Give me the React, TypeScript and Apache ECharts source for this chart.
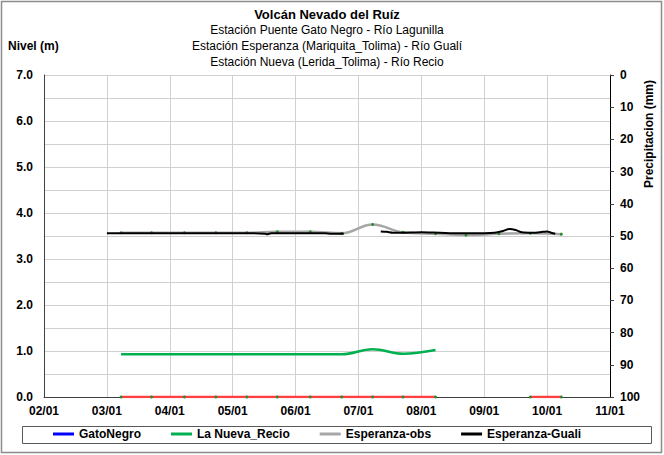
import React, { useEffect, useRef } from "react";
import * as echarts from "echarts";

// ---- Data ----
const monthLabels = ["02/01", "03/01", "04/01", "05/01", "06/01", "07/01", "08/01", "09/01", "10/01", "11/01"];
const levelTicks = [0, 1, 2, 3, 4, 5, 6, 7];

const titleLines = [
  "Volcán Nevado del Ruíz",
  "Estación Puente Gato Negro - Río Lagunilla",
  "Estación Esperanza (Mariquita_Tolima) - Río Gualí",
  "Estación Nueva (Lerida_Tolima) - Río Recio",
];

// GatoNegro: no data visible
const gatoNegroDates: string[] = [];
const gatoNegroValues: number[] = [];

// La Nueva_Recio
const nuevaDates = ["03/08", "03/23", "04/08", "04/23", "05/08", "05/23", "06/08", "06/23", "07/08", "07/23", "08/08"];
const nuevaValues = [0.93, 0.93, 0.93, 0.93, 0.93, 0.93, 0.93, 0.93, 1.04, 0.94, 1.02];

// Esperanza-obs
const obsDates = ["03/08", "03/23", "04/08", "04/23", "05/08", "05/23", "06/08", "06/23", "07/08", "07/23", "08/08", "08/23", "09/08", "09/23", "10/08"];
const obsValues = [3.57, 3.57, 3.57, 3.57, 3.57, 3.59, 3.59, 3.56, 3.75, 3.58, 3.55, 3.52, 3.55, 3.56, 3.54];

// Esperanza-Guali (null = gap)
const gualiDates = [
  "03/01", "03/10", "03/20", "04/01", "04/10", "04/20", "05/01", "05/10", "05/17", "05/18", "05/20", "06/01", "06/10", "06/15", "06/18", "06/24",
  "07/03",
  "07/12", "07/15", "07/18", "07/22", "08/01", "08/10", "08/20", "09/01", "09/06", "09/10", "09/13", "09/16", "09/19", "09/24", "09/29", "10/01", "10/03", "10/05",
];
const gualiValues: (number | null)[] = [
  3.56, 3.56, 3.56, 3.56, 3.56, 3.56, 3.56, 3.56, 3.55, 3.54, 3.56, 3.56, 3.56, 3.56, 3.55, 3.55,
  null,
  3.6, 3.59, 3.57, 3.57, 3.58, 3.57, 3.56, 3.56, 3.57, 3.61, 3.65, 3.63, 3.58, 3.57, 3.59, 3.6, 3.57, 3.55,
];

// Series at the bottom (no legend entry)
const precipDates = ["03/08", "03/23", "04/08", "04/23", "05/08", "05/23", "06/08", "06/23", "07/08", "07/23", "08/08", "08/23", "09/23", "10/08"];
const precipValues: (number | null)[] = [0, 0, 0, 0, 0, 0, 0, 0, 0, 0, 0, null, 0, 0];

const daysInMonth: Record<number, number> = { 2: 28, 3: 31, 4: 30, 5: 31, 6: 30, 7: 31, 8: 31, 9: 30, 10: 31, 11: 30 };
function toX(d: string): number {
  const [m, day] = d.split("/").map(Number);
  return m - 2 + (day - 1) / daysInMonth[m];
}
function pairs(dates: string[], vals: (number | null)[]) {
  return dates.map((d, i) => [toX(d), vals[i] == null ? "-" : vals[i]]);
}

const FONT = "'Liberation Sans', Arial, sans-serif";

export default function App() {
  const ref = useRef<HTMLDivElement>(null);
  useEffect(() => {
    if (!ref.current) return;
    const chart = echarts.init(ref.current, undefined, { renderer: "svg" });
    const grid = "#d0d0d0";
    chart.setOption({
      animation: false,
      backgroundColor: "#ffffff",
      textStyle: { fontFamily: FONT },
      grid: { left: 44, right: 54, top: 75, bottom: 58, containLabel: false },
      xAxis: {
        type: "value",
        min: 0,
        max: monthLabels.length - 1,
        interval: 1,
        axisLine: { lineStyle: { color: "#404040", width: 1 } },
        axisTick: { show: false },
        axisLabel: {
          formatter: (v: number) => monthLabels[Math.round(v)] ?? "",
          color: "#000",
          fontWeight: "bold",
          fontSize: 12,
          fontFamily: FONT,
          margin: 8,
        },
        splitLine: { show: true, lineStyle: { color: grid, width: 1 } },
      },
      yAxis: [
        {
          type: "value",
          min: 0,
          max: 7,
          interval: 0.5,
          axisLine: { show: true, lineStyle: { color: "#404040", width: 1 } },
          axisTick: { show: false },
          axisLabel: {
            formatter: (v: number) => (levelTicks.includes(v) ? v.toFixed(1) : ""),
            color: "#000",
            fontWeight: "bold",
            fontSize: 12,
            fontFamily: FONT,
            margin: 11,
          },
          splitLine: { show: true, lineStyle: { color: grid, width: 1 } },
        },
        {
          type: "value",
          min: 0,
          max: 100,
          interval: 10,
          inverse: true,
          position: "right",
          axisLine: { show: true, lineStyle: { color: "#000", width: 1 } },
          axisTick: { show: true, length: 4, lineStyle: { color: "#404040" } },
          axisLabel: {
            color: "#000",
            fontWeight: "bold",
            fontSize: 12,
            fontFamily: FONT,
            margin: 10,
          },
          splitLine: { show: false },
        },
      ],
      legend: {
        data: [
          { name: "GatoNegro" },
          { name: "La Nueva_Recio" },
          { name: "Esperanza-obs", itemStyle: { color: "#a6a6a6" } },
          { name: "Esperanza-Guali" },
        ],
        left: 53,
        top: 428,
        padding: 0,
        icon: "rect",
        itemWidth: 21,
        itemHeight: 3,
        itemGap: 30,
        textStyle: { color: "#000", fontWeight: "bold", fontSize: 12, fontFamily: FONT },
      },
      graphic: [
        { type: "rect", shape: { x: 1.5, y: 1.5, width: 660, height: 451 }, style: { fill: "none", stroke: "#8c8c8c", lineWidth: 1.5 }, z: -1 },
        { type: "rect", shape: { x: 22.5, y: 426.5, width: 629, height: 17 }, style: { fill: "none", stroke: "#595959", lineWidth: 1 } },
        ...titleLines.map((t, i) => ({
          type: "text",
          x: 327,
          y: 14 + i * 16,
          style: {
            text: t,
            fill: "#000",
            font: `${i === 0 ? "bold 13px" : "12px"} ${FONT}`,
            textAlign: "center",
            textVerticalAlign: "middle",
          },
        })),
        {
          type: "text",
          x: 8,
          y: 46,
          style: { text: "Nivel (m)", fill: "#000", font: `bold 12px ${FONT}`, textAlign: "left", textVerticalAlign: "middle" },
        },
        {
          type: "text",
          x: 649,
          y: 134,
          rotation: Math.PI / 2,
          style: { text: "Precipitacion (mm)", fill: "#000", font: `bold 12px ${FONT}`, textAlign: "center", textVerticalAlign: "middle" },
        },
      ],
      series: [
        {
          name: "GatoNegro",
          type: "line",
          data: pairs(gatoNegroDates, gatoNegroValues),
          symbol: "none",
          lineStyle: { color: "#0000ff", width: 3 },
          itemStyle: { color: "#0000ff" },
        },
        {
          name: "Precipitacion",
          type: "line",
          data: pairs(precipDates, precipValues),
          symbol: "circle",
          symbolSize: 3,
          showSymbol: true,
          connectNulls: false,
          lineStyle: { color: "#ff4040", width: 2.5 },
          itemStyle: { color: "#2e8b2e" },
          z: 5,
        },
        {
          name: "La Nueva_Recio",
          type: "line",
          data: pairs(nuevaDates, nuevaValues),
          symbol: "none",
          smooth: 0.4,
          lineStyle: { color: "#00b050", width: 2.5 },
          itemStyle: { color: "#00b050" },
        },
        {
          name: "Esperanza-obs",
          type: "line",
          data: pairs(obsDates, obsValues),
          symbol: "circle",
          symbolSize: 3,
          showSymbol: true,
          smooth: 0.4,
          lineStyle: { color: "#a6a6a6", width: 2.5 },
          itemStyle: { color: "#2e8b2e" },
        },
        {
          name: "Esperanza-Guali",
          type: "line",
          data: pairs(gualiDates, gualiValues),
          symbol: "none",
          connectNulls: false,
          smooth: 0.3,
          lineStyle: { color: "#000000", width: 2 },
          itemStyle: { color: "#000000" },
          z: 4,
        },
      ],
    });
    return () => chart.dispose();
  }, []);
  return <div ref={ref} style={{ position: "fixed", left: 0, top: 0, width: 664, height: 455 }} />;
}
